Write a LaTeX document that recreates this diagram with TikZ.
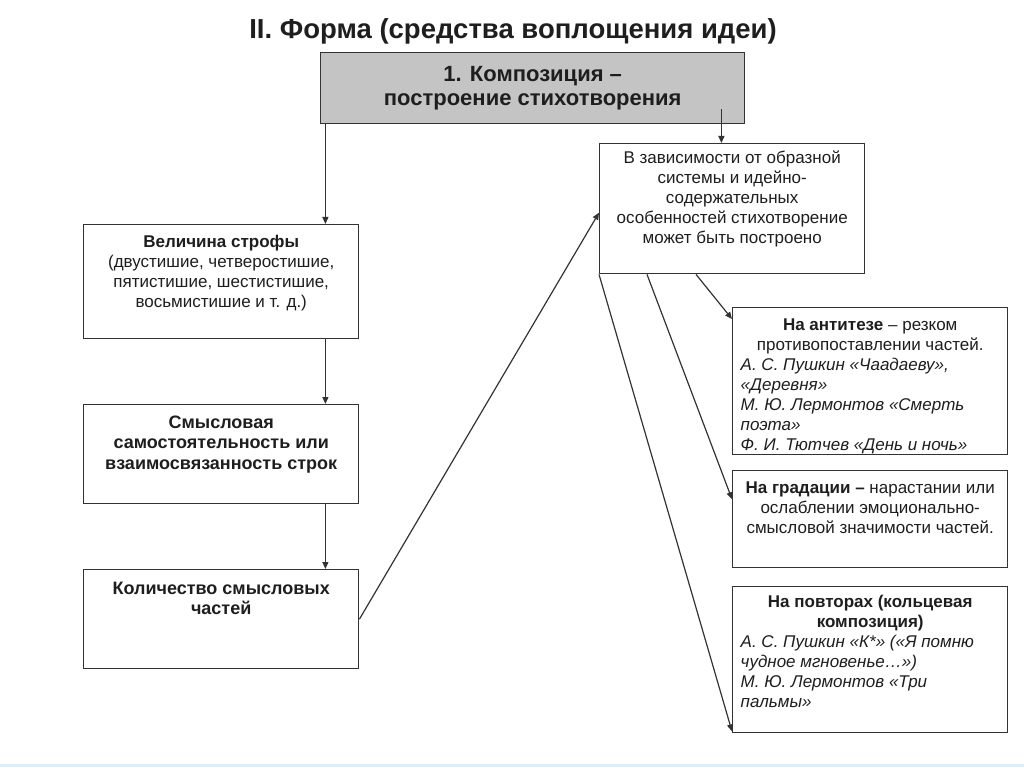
\documentclass[tikz,border=0pt]{standalone}
\usepackage{fontspec}
\setmainfont{Liberation Sans}
\usepackage{xcolor}
\usepackage{tikz}
\usetikzlibrary{arrows.meta,calc,positioning}
\definecolor{slidegray}{HTML}{C4C4C4}
\definecolor{edgegray}{HTML}{333333}
\definecolor{inkgray}{HTML}{1E1E1E}
\definecolor{slideblue}{HTML}{DCEFF8}
% box text: width, height, top gap, contents
\newcommand{\cell}[4]{\parbox[t][#2pt][t]{#1pt}{\vspace{#3pt}#4}}
\tikzset{
  heading/.style={inner sep=0pt,text=inkgray,font=\fontsize{27.5}{30}\selectfont\bfseries},
  topic/.style={rectangle,draw=edgegray,fill=slidegray,line width=1.4pt,anchor=north west,
    minimum width=424pt,minimum height=71pt,align=center,text=inkgray,
    font=\fontsize{22}{23.5}\selectfont\bfseries},
  panel/.style={rectangle,draw=edgegray,fill=white,line width=1.4pt,anchor=north west,
    inner sep=0pt,text=inkgray,font=\fontsize{17}{20}\selectfont},
  bigpanel/.style={panel,font=\fontsize{18}{20.5}\selectfont\bfseries},
  arrow/.style={-{Triangle[length=7pt,width=6pt]},line width=1.2pt,draw=edgegray}
}

\begin{document}
\begin{tikzpicture}[x=1pt,y=-1pt]
\useasboundingbox (0,0) rectangle (1024,767);
\fill[slideblue] (0,764) rectangle (1024,767);
\node[heading] (title) at (513,31) {II. Форма (средства воплощения идеи)};
\node[topic] (topbox) at (320,52) {1. Композиция --\\построение стихотворения};
\node[panel] (depends) at (599,143) {\cell{265}{130}{6}{\centering\strut
  В зависимости от образной\\системы и идейно-\\содержательных\\особенностей стихотворение\\может быть построено}};
\node[panel] (strophe) at (83,224) {\cell{275}{114}{9}{\centering\strut
  \textbf{Величина строфы}\\(двустишие, четверостишие,\\пятистишие, шестистишие,\\восьмистишие и т. д.)}};
\node[bigpanel] (sense) at (83,404) {\cell{275}{99}{9}{\centering\strut
  Смысловая\\самостоятельность или\\взаимосвязанность строк}};
\node[bigpanel] (count) at (83,569) {\cell{275}{99}{10}{\centering\strut
  Количество смысловых\\частей}};
\node[panel] (antithesis) at (732,307) {\cell{275}{147}{9}{{\centering\strut
  \textbf{На антитезе} -- резком\\противопоставлении частей.\par}
  {\leftskip=8pt\itshape А. С. Пушкин «Чаадаеву»,\\«Деревня»\\М. Ю. Лермонтов «Смерть\\поэта»\\Ф. И. Тютчев «День и ночь»\par}}};
\node[panel] (gradation) at (732,470) {\cell{275}{97}{9}{\centering\strut
  \textbf{На градации --} нарастании или\\ослаблении эмоционально-\\смысловой значимости частей.}};
\node[panel] (ring) at (732,586) {\cell{275}{146}{7}{{\centering\bfseries\strut
  На повторах (кольцевая\\композиция)\par}
  {\leftskip=8pt\itshape А. С. Пушкин «К*» («Я помню\\чудное мгновенье…»)\\М. Ю. Лермонтов «Три\\пальмы»\par}}};

\draw[arrow] ([xshift=-34pt]strophe.north east |- topbox.south) -- ([xshift=-34pt]strophe.north east);
\draw[arrow] ([xshift=-24pt,yshift=15pt]topbox.south east) -- ([xshift=-24pt]topbox.south east |- depends.north);
\draw[arrow] ([xshift=-34pt]strophe.south east) -- ([xshift=-34pt]sense.north east);
\draw[arrow] ([xshift=-34pt]sense.south east) -- ([xshift=-34pt]count.north east);
\draw[arrow] (count.east) -- ([yshift=-4pt]depends.west);
\draw[arrow] ([xshift=97pt]depends.south west) -- ([yshift=-12pt]antithesis.north west);
\draw[arrow] ([xshift=48pt]depends.south west) -- ([yshift=20pt]gradation.west);
\draw[arrow] (depends.south west) -- ([yshift=2pt]ring.south west);
\end{tikzpicture}
\end{document}
